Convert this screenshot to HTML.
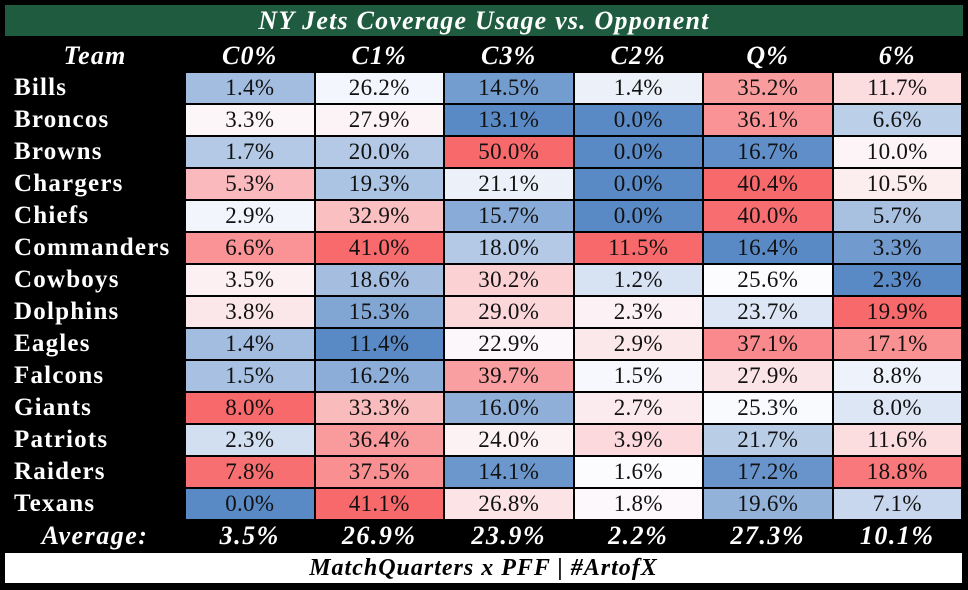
<!DOCTYPE html>
<html><head><meta charset="utf-8"><style>
html,body{margin:0;padding:0;background:#000;width:968px;height:590px;overflow:hidden;font-family:"Liberation Serif",serif;}
#root{position:relative;width:968px;height:590px;background:#000;}
.abs{position:absolute;display:flex;align-items:center;justify-content:center;box-sizing:border-box;white-space:nowrap;}
.title{left:5px;top:5px;width:958px;height:31px;background:#1e5b3f;color:#fff;font-weight:bold;font-style:italic;font-size:26px;letter-spacing:1.2px;}
.hdr{color:#fff;font-weight:bold;font-style:italic;font-size:26px;letter-spacing:1.2px;}
.team{color:#fff;font-weight:bold;font-size:25px;letter-spacing:1.2px;justify-content:flex-start;padding-left:9px;}
.cell{color:#111;font-size:23px;letter-spacing:0.3px;}
.avg{color:#fff;font-weight:bold;font-style:italic;font-size:26px;letter-spacing:1.5px;}
.foot{left:5px;top:553px;width:957px;height:30px;background:#fff;color:#000;font-weight:bold;font-style:italic;font-size:24px;letter-spacing:1px;}
</style></head><body>
<div id="root">
<div class="abs title">NY Jets Coverage Usage vs. Opponent</div>
<div class="abs foot">MatchQuarters x PFF | #ArtofX</div>
</div>
<script>
const columns=["C0%","C1%","C3%","C2%","Q%","6%"];
const teams=["Bills","Broncos","Browns","Chargers","Chiefs","Commanders","Cowboys","Dolphins","Eagles","Falcons","Giants","Patriots","Raiders","Texans"];
const c0=[1.4,3.3,1.7,5.3,2.9,6.6,3.5,3.8,1.4,1.5,8.0,2.3,7.8,0.0];
const c1=[26.2,27.9,20.0,19.3,32.9,41.0,18.6,15.3,11.4,16.2,33.3,36.4,37.5,41.1];
const c3=[14.5,13.1,50.0,21.1,15.7,18.0,30.2,29.0,22.9,39.7,16.0,24.0,14.1,26.8];
const c2=[1.4,0.0,0.0,0.0,0.0,11.5,1.2,2.3,2.9,1.5,2.7,3.9,1.6,1.8];
const q=[35.2,36.1,16.7,40.4,40.0,16.4,25.6,23.7,37.1,27.9,25.3,21.7,17.2,19.6];
const six=[11.7,6.6,10.0,10.5,5.7,3.3,2.3,19.9,17.1,8.8,8.0,11.6,18.8,7.1];
const averages=[3.5,26.9,23.9,2.2,27.3,10.1];
const series=[c0,c1,c3,c2,q,six];
const root=document.getElementById('root');
const X0=185,CW=129.5,Y0=72,RH=32;
const lo=[90,138,198],mid=[252,252,255],hi=[248,105,107];
function mix(a,b,t){return 'rgb('+a.map((v,i)=>Math.round(v+(b[i]-v)*t)).join(',')+')';}
function colorFor(v,arr){
  const s=[...arr].sort((a,b)=>a-b);const n=s.length;
  const med=(s[(n-1)>>1]+s[n>>1])/2;const mn=s[0],mx=s[n-1];
  if(v<=med)return mix(lo,mid,med===mn?1:(v-mn)/(med-mn));
  return mix(mid,hi,mx===med?0:(v-med)/(mx-med));
}
function mk(cls,txt,l,t,w,h){const d=document.createElement('div');d.className='abs '+cls;d.textContent=txt;
d.style.left=l+'px';d.style.top=t+'px';d.style.width=w+'px';d.style.height=h+'px';root.appendChild(d);return d;}
let h=mk('hdr','Team',5,40,180,32);


columns.forEach((c,j)=>{const e=mk('hdr',c,X0+j*CW,40,CW,32);

});
teams.forEach((t,i)=>{const y=Y0+i*RH;
const e=mk('team',t,5,y,180,RH);


series.forEach((arr,j)=>{const c=mk('cell',arr[i].toFixed(1)+'%',X0+j*CW+1,y+1,CW-2,RH-2);
c.style.background=colorFor(arr[i],arr);

});});
const ay=Y0+teams.length*RH;
const a=mk('avg','Average:',5,ay,180,RH);


averages.forEach((v,j)=>{const e=mk('avg',v.toFixed(1)+'%',X0+j*CW,ay,CW,RH);

});
</script>
</body></html>
